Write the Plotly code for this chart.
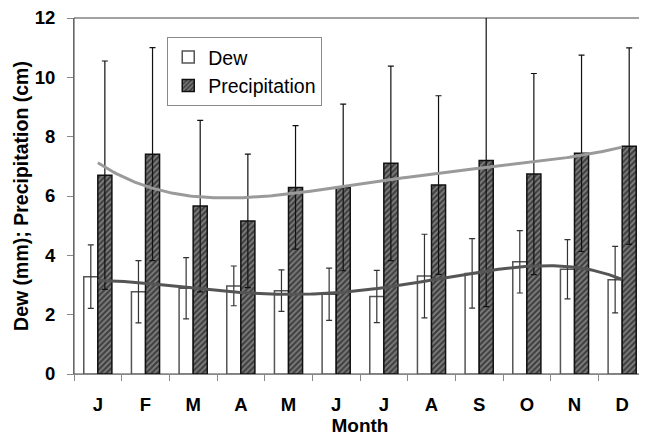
import numpy as np
import plotly.graph_objects as go

months = ["J", "F", "M", "A", "M ", "J ", "J  ", "A ", "S", "O", "N", "D"]
month_labels = ["J", "F", "M", "A", "M", "J", "J", "A", "S", "O", "N", "D"]
dew = [3.28, 2.77, 2.89, 2.97, 2.81, 2.69, 2.61, 3.30, 3.39, 3.78, 3.53, 3.18]
dew_err = [1.07, 1.05, 1.03, 0.67, 0.70, 0.88, 0.88, 1.41, 1.17, 1.05, 1.00, 1.12]
precip = [6.70, 7.41, 5.66, 5.16, 6.29, 6.29, 7.10, 6.37, 7.20, 6.74, 7.44, 7.68]
precip_err = [3.85, 3.59, 2.89, 2.25, 2.08, 2.81, 3.28, 3.01, 4.93, 3.39, 3.31, 3.31]

FONT = "Liberation Sans, Arial, sans-serif"

fig = go.Figure()
fig.add_trace(go.Bar(
    x=months, y=dew, name="Dew",
    marker=dict(color="white", line=dict(color="#555555", width=1.5)),
    error_y=dict(type="data", array=dew_err, color="#333333", thickness=1.2, width=3),
))
fig.add_trace(go.Bar(
    x=months, y=precip, name="Precipitation",
    marker=dict(color="#404040", line=dict(color="#111111", width=1.5),
                pattern=dict(shape="/", fgcolor="#c4c4c4", bgcolor="#404040",
                             size=4, solidity=0.42)),
    error_y=dict(type="data", array=precip_err, color="#111111", thickness=1.2, width=3),
    cliponaxis=False,
))

# polynomial trendlines fitted to the data
xi = np.arange(len(dew))
xs = np.linspace(0, len(dew) - 1, 200)
pre_fit = np.polyval(np.polyfit(xi, precip, 4), xs)
dew_fit = np.polyval(np.polyfit(xi, dew, 4), xs)
fig.add_trace(go.Scatter(x=xs, y=pre_fit, mode="lines", xaxis="x2",
                         line=dict(color="#9a9a9a", width=3), showlegend=False,
                         hoverinfo="skip"))
fig.add_trace(go.Scatter(x=xs, y=dew_fit, mode="lines", xaxis="x2",
                         line=dict(color="#555555", width=3), showlegend=False,
                         hoverinfo="skip"))

fig.update_layout(
    width=639, height=428,
    margin=dict(l=66, r=1, t=10, b=62, autoexpand=False),
    paper_bgcolor="white", plot_bgcolor="white",
    barmode="group", bargap=0.41, bargroupgap=0,
    font=dict(family=FONT, size=19, color="black"),
    showlegend=True,
    legend=dict(x=0.163, y=0.947, xanchor="left", yanchor="top",
                bordercolor="#8a8a8a", borderwidth=1, bgcolor="white",
                font=dict(size=19.5, family=FONT), tracegroupgap=0,
                itemwidth=30),
    xaxis=dict(type="category", tickmode="array", tickvals=months, ticktext=month_labels,
               tickson="boundaries", ticks="outside", ticklen=6, tickcolor="#888888",
               showline=True, linecolor="#888888", linewidth=1,
               tickfont=dict(size=18.5, weight="bold"), ticklabelstandoff=14,
               ticklabeloverflow="allow",
               title=dict(text="<b>Month</b>", font=dict(size=19), standoff=10),
               showgrid=False, range=[-0.5, 11.5]),
    xaxis2=dict(overlaying="x", range=[-0.5, 11.5], visible=False),
    yaxis=dict(range=[0, 12], dtick=2, ticks="outside", ticklen=6, tickcolor="#888888",
               showline=True, linecolor="#666666", linewidth=1,
               tickfont=dict(size=18.5, weight="bold"), ticklabelstandoff=8,
               ticklabeloverflow="allow",
               title=dict(text="<b>Dew (mm); Precipitation (cm)</b>", font=dict(size=19.5), standoff=0),
               showgrid=False, zeroline=False),
    shapes=[dict(type="rect", xref="paper", yref="paper", x0=0, x1=1, y0=0, y1=1,
                 line=dict(color="#444444", width=1), layer="below")],
)

fig.write_html("out.html")
